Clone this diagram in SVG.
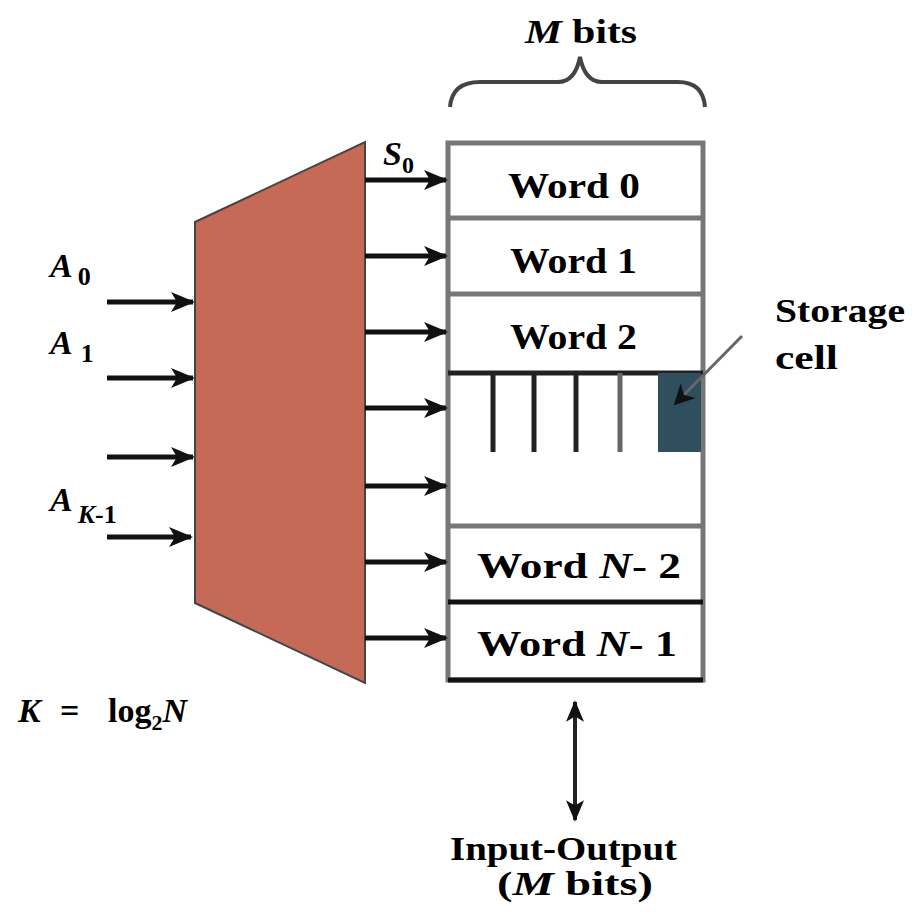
<svg xmlns="http://www.w3.org/2000/svg" width="921" height="920" viewBox="0 0 921 920">
<style>
text{font-family:"Liberation Serif","DejaVu Serif",serif;font-weight:bold;fill:#000}
.w{font-size:36px}
.lbl{font-size:34px}
.it{font-style:italic}
.arr{stroke:#111;stroke-width:5;fill:none;marker-end:url(#ah)}
.row{stroke:#777;stroke-width:5}
</style>
<defs>
<marker id="ah" viewBox="0 0 12 10" refX="11" refY="5" markerWidth="5" markerHeight="4" markerUnits="strokeWidth" orient="auto">
<path d="M0,0 L12,5 L0,10 L3,5 z" fill="#111"/>
</marker>
<marker id="ah2" viewBox="0 0 10 10" refX="9" refY="5" markerWidth="8" markerHeight="7" markerUnits="strokeWidth" orient="auto">
<path d="M0,0 L10,5 L0,10 L3,5 z" fill="#111"/>
</marker>
<marker id="ahs" viewBox="0 0 12 10" refX="1" refY="5" markerWidth="5.5" markerHeight="4.5" markerUnits="strokeWidth" orient="auto">
<path d="M12,0 L0,5 L12,10 L9,5 z" fill="#111"/>
</marker>
<marker id="ahe" viewBox="0 0 12 10" refX="11" refY="5" markerWidth="5.5" markerHeight="4.5" markerUnits="strokeWidth" orient="auto">
<path d="M0,0 L12,5 L0,10 L3,5 z" fill="#111"/>
</marker>
</defs>

<g id="decoder">
<polygon points="195,222 365,142 365,683 195,603" fill="#c66a58" stroke="#444" stroke-width="2"/>
</g>

<g id="memory">
<rect x="448" y="143" width="255" height="537" fill="#fff" stroke="#777" stroke-width="5"/>
<line class="row" x1="448" y1="218" x2="703" y2="218" stroke-width="7"/>
<line class="row" x1="448" y1="294" x2="703" y2="294" stroke-width="7"/>
<line x1="448" y1="373" x2="703" y2="373" stroke="#222" stroke-width="5"/>
<line class="row" x1="448" y1="526" x2="703" y2="526" stroke-width="7"/>
<line x1="448" y1="602" x2="703" y2="602" stroke="#111" stroke-width="5"/>
<line x1="448" y1="680" x2="703" y2="680" stroke="#111" stroke-width="5"/>
<g stroke="#222" stroke-width="5">
<line x1="493" y1="373" x2="493" y2="452"/>
<line x1="534" y1="373" x2="534" y2="452"/>
<line x1="576" y1="373" x2="576" y2="452"/>
<line x1="620" y1="373" x2="620" y2="452" stroke="#666"/>
</g>
<rect id="storage-cell" x="658" y="373" width="43" height="79" fill="#2f4f5f"/>
<text class="w" x="508" y="198" textLength="132" lengthAdjust="spacingAndGlyphs">Word 0</text>
<text class="w" x="510" y="273" textLength="127" lengthAdjust="spacingAndGlyphs">Word 1</text>
<text class="w" x="510" y="349" textLength="127" lengthAdjust="spacingAndGlyphs">Word 2</text>
<text class="w" x="477" y="578" textLength="204" lengthAdjust="spacingAndGlyphs">Word <tspan class="it">N</tspan>-  2</text>
<text class="w" x="477" y="656" textLength="200" lengthAdjust="spacingAndGlyphs">Word <tspan class="it">N</tspan>-  1</text>
</g>

<g id="connectors">
<line class="arr" x1="107" y1="302" x2="193" y2="302"/>
<line class="arr" x1="107" y1="378" x2="193" y2="378"/>
<line class="arr" x1="107" y1="457" x2="193" y2="457"/>
<line class="arr" x1="107" y1="537" x2="191" y2="537"/>
<line class="arr" x1="365" y1="180" x2="446" y2="180"/>
<line class="arr" x1="365" y1="256" x2="446" y2="256"/>
<line class="arr" x1="365" y1="332" x2="446" y2="332"/>
<line class="arr" x1="365" y1="408" x2="446" y2="408"/>
<line class="arr" x1="365" y1="486" x2="446" y2="486"/>
<line class="arr" x1="365" y1="562" x2="446" y2="562"/>
<line class="arr" x1="365" y1="638" x2="446" y2="638"/>
<line x1="742" y1="336" x2="675" y2="404" stroke="#666" stroke-width="3" marker-end="url(#ah2)"/>
<line x1="575" y1="702" x2="575" y2="820" stroke="#222" stroke-width="4" marker-start="url(#ahs)" marker-end="url(#ahe)"/>
<path d="M450,107 Q452,82 480,82 L558,82 Q575,82 580,57 Q585,82 602,82 L678,82 Q703,82 705,107" fill="none" stroke="#444" stroke-width="4"/>
</g>

<g id="labels">
<text class="lbl" x="525" y="43" textLength="112" lengthAdjust="spacingAndGlyphs"><tspan class="it">M</tspan> bits</text>
<text class="lbl it" x="383" y="165">S<tspan font-size="24" font-style="normal" dy="8">0</tspan></text>
<text class="lbl it" x="50" y="277">A<tspan font-size="26" font-style="normal" dx="5" dy="8">0</tspan></text>
<text class="lbl it" x="50" y="354">A<tspan font-size="26" font-style="normal" dx="8" dy="8">1</tspan></text>
<text class="lbl it" x="50" y="511">A<tspan font-size="26" dx="5" dy="12">K</tspan><tspan font-size="26" font-style="normal">-1</tspan></text>
<text class="lbl" x="775" y="322" textLength="130" lengthAdjust="spacingAndGlyphs">Storage</text>
<text class="lbl" x="775" y="369" textLength="63" lengthAdjust="spacingAndGlyphs">cell</text>
<text class="lbl" x="18" y="722"><tspan class="it">K</tspan><tspan x="60">=</tspan><tspan x="108">log</tspan><tspan font-size="22" dy="8">2</tspan><tspan class="it" dy="-8">N</tspan></text>
<text class="lbl" x="450" y="860" textLength="227" lengthAdjust="spacingAndGlyphs">Input-Output</text>
<text class="lbl" x="497" y="895" textLength="156" lengthAdjust="spacingAndGlyphs">(<tspan class="it">M</tspan> bits)</text>
</g>
</svg>
